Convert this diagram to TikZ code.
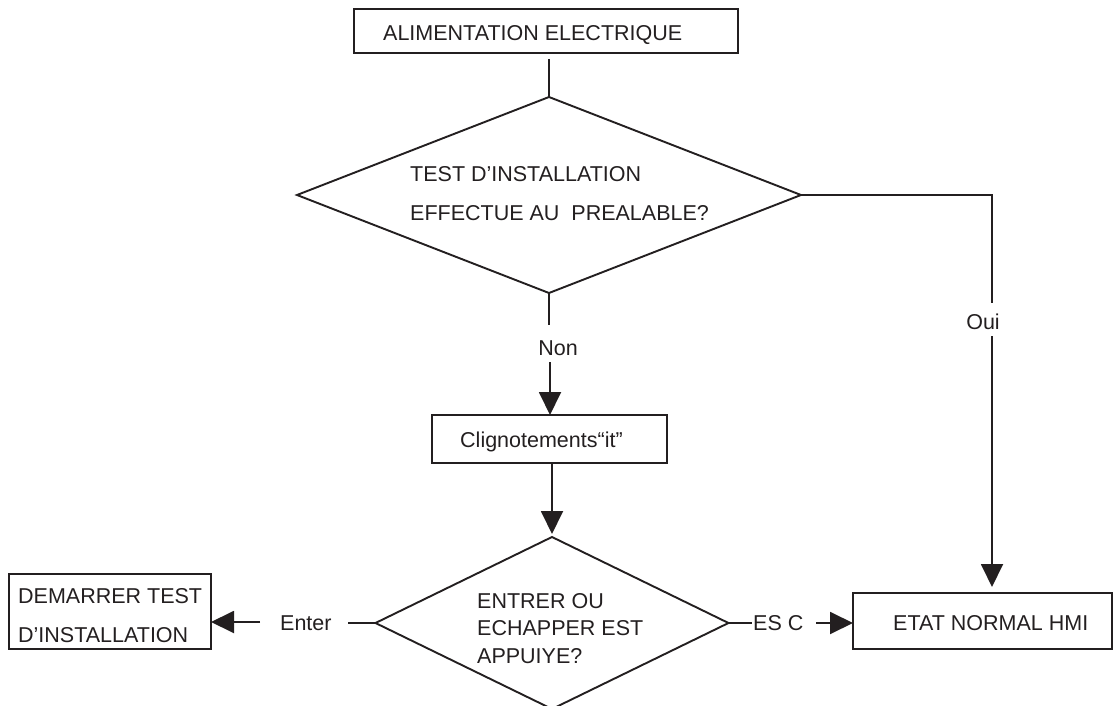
\documentclass[tikz,border=0pt]{standalone}
\usepackage{fontspec}
\setmainfont{Liberation Sans}
\usetikzlibrary{shapes.geometric,arrows.meta}
\definecolor{ink}{HTML}{231F20}
\begin{document}
\begin{tikzpicture}[x=1pt,y=-1pt,
  every node/.style={text=ink},
  frame/.style={draw=ink,line width=1.9pt,rectangle,inner sep=0pt,outer sep=0pt},
  decision/.style={draw=ink,line width=1.9pt,diamond,inner sep=0pt,outer sep=0pt},
  txt/.style={inner sep=0pt,anchor=base west,font=\fontsize{21.5}{25}\selectfont},
  ctxt/.style={inner sep=0pt,anchor=base,font=\fontsize{21.5}{25}\selectfont},
  conn/.style={draw=ink,line width=1.9pt},
  arr/.style={conn,-{Triangle[width=22pt,length=23pt]}}]
\useasboundingbox (0,0) rectangle (1120,706);
% shapes
\node[frame,minimum width=384pt,minimum height=44pt] (top) at (546,31) {};
\node[decision,minimum width=504pt,minimum height=196pt] (d1) at (549,195) {};
\node[frame,minimum width=235pt,minimum height=48pt] (clig) at (549.5,439) {};
\node[decision,minimum width=353pt,minimum height=172pt] (d2) at (552,623) {};
\node[frame,minimum width=202pt,minimum height=75pt] (dem) at (110,611.5) {};
\node[frame,minimum width=259pt,minimum height=56pt] (etat) at (982.5,621) {};
% texts
\node[txt] (t1) at (383,40.5) {ALIMENTATION ELECTRIQUE};
\node[txt] (t2) at (410,182) {TEST D’INSTALLATION};
\node[txt] (t3) at (410,220) {EFFECTUE AU\ \ PREALABLE?};
\node[txt] (t4) at (460,447) {Clignotements“it”};
\node[txt] (t5) at (477,608) {ENTRER OU};
\node[txt] (t6) at (477,635) {ECHAPPER EST};
\node[txt] (t7) at (477,663) {APPUIYE?};
\node[txt] (t8) at (18,603) {DEMARRER TEST};
\node[txt] (t9) at (18,642) {D’INSTALLATION};
\node[txt] (t10) at (893,630.5) {ETAT NORMAL HMI};
% edge labels
\node[ctxt] (non) at (558,355.5) {Non};
\node[ctxt] (oui) at (983,329.5) {Oui};
\node[txt] (enter) at (280,630) {Enter};
\node[txt] (esc) at (753,630.5) {ES C};
% helper coordinates
\coordinate (o1) at (992,303);
\coordinate (o2) at (992,336);
\coordinate (n1) at (549,325);
\coordinate (n2) at (550,362);
\coordinate (e1) at (348,623);
\coordinate (e2) at (260,622);
\coordinate (s1) at (752,623);
\coordinate (s2) at (816,623);
% connectors
\draw[conn,shorten <=6pt] (top.south -| d1.north) -- (d1.north);
\draw[conn] (d1.east) -| (o1);
\draw[arr,shorten >=6pt] (o2) -- (o2 |- etat.north);
\draw[conn] (d1.south) -- (n1);
\draw[arr] (n2) -- (n2 |- clig.north);
\draw[arr,shorten >=3pt] (clig.south -| d2.north) -- (d2.north);
\draw[conn] (d2.west) -- (e1);
\draw[arr] (e2) -- (e2 -| dem.east);
\draw[conn] (d2.east) -- (s1);
\draw[arr] (s2) -- (s2 -| etat.west);
\end{tikzpicture}
\end{document}
